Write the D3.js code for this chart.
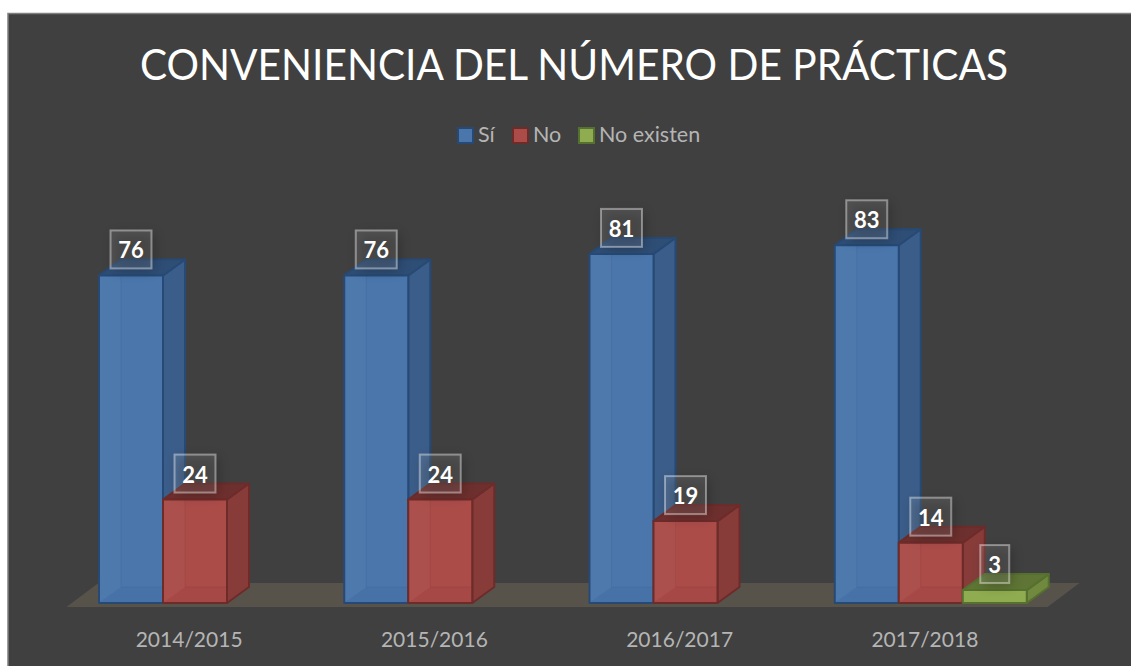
<!DOCTYPE html>
<html>
<head>
<meta charset="utf-8">
<script src="https://cdn.jsdelivr.net/npm/d3@7"></script>
<style>
html, body { margin: 0; padding: 0; background: #fff; overflow: hidden; }
svg { display: block; }
</style>
</head>
<body>
<div id="chart"></div>
<script>
var years = ['2014/2015', '2015/2016', '2016/2017', '2017/2018'];
var seriesNames = ['Sí', 'No', 'No existen'];
var siValues = [76, 76, 81, 83];
var noValues = [24, 24, 19, 14];
var noExistenValues = [null, null, null, 3];
var seriesValues = [siValues, noValues, noExistenValues];

var fronts = ['#4a76ac', '#ab4c49', '#8fac50'];
var sides = ['#3b5d89', '#873c3a', '#71883f'];
var tops = ['#2f4e76', '#6e302e', '#5f7535'];
var edges = ['#264a75', '#6d2b29', '#56702f'];

var width = 1131, height = 666;
var depthX = 22, depthY = 16;

var svg = d3.select('#chart').append('svg').attr('width', width).attr('height', height);

var defs = svg.append('defs');
var blur = defs.append('filter').attr('id', 'labelShadow').attr('x', '-50%').attr('y', '-50%').attr('width', '200%').attr('height', '200%');
blur.append('feGaussianBlur').attr('stdDeviation', 6);

// chart background, runs off the right and bottom of the picture
svg.append('rect').attr('x', 8).attr('y', 13.5).attr('width', 1140).attr('height', 670)
	.attr('fill', '#404040').attr('stroke', '#7f7f7f').attr('stroke-width', 1.5);

var x = d3.scaleBand().domain(years).range([58.5, 1039.5]).paddingInner(0).paddingOuter(0);
var xInner = d3.scaleBand().domain(seriesNames).range([40.5, 232.5]);
var y = d3.scaleLinear().domain([0, 100]).range([603, 172]);

// floor of the 3D chart
var floorPath = d3.path();
floorPath.moveTo(x.range()[0] + 8, 607);
floorPath.lineTo(x.range()[1] + 8, 607);
floorPath.lineTo(x.range()[1] + 8 + 32, 583);
floorPath.lineTo(x.range()[0] + 8 + 32, 583);
floorPath.closePath();
svg.append('path').attr('d', floorPath.toString()).attr('fill', '#57534a');

function polygon(pts){
	return 'M' + pts.map(function(p){ return p[0] + ',' + p[1]; }).join('L') + 'Z';
}

// draws one bar as its faces, the back of the box shows a little through the front
function drawBar(year, s, value){
	var x0 = x(year) + xInner(seriesNames[s]);
	var x1 = x0 + xInner.bandwidth();
	var y0 = y(0);
	var y1 = y(value);
	var g = svg.append('g').attr('stroke', edges[s]).attr('stroke-width', 2).attr('stroke-linejoin', 'round');
	g.append('path').attr('d', polygon([[x1, y1], [x1 + depthX, y1 - depthY], [x1 + depthX, y0 - depthY], [x1, y0]])).attr('fill', sides[s]);
	g.append('path').attr('d', polygon([[x0, y1], [x1, y1], [x1 + depthX, y1 - depthY], [x0 + depthX, y1 - depthY]])).attr('fill', tops[s]);
	g.append('path').attr('d', polygon([[x0, y1], [x1, y1], [x1, y0], [x0, y0]])).attr('fill', fronts[s]);
	if(value > 5){
		svg.append('path').attr('d', polygon([[x0 + 1, y1 + 1], [x0 + depthX, y1 + 1], [x0 + depthX, y0 - depthY], [x0 + 1, y0 - 1]]))
			.attr('fill', '#fff').attr('fill-opacity', 0.025);
		svg.append('path').attr('d', polygon([[x0 + depthX, y0 - depthY], [x1 - 1, y0 - depthY], [x1 - 1, y0 - 1], [x0 + 1, y0 - 1]]))
			.attr('fill', edges[s]).attr('fill-opacity', 0.07);
		svg.append('path')
			.attr('d', 'M' + (x0 + depthX) + ',' + y1 + 'L' + (x0 + depthX) + ',' + (y0 - depthY) + 'L' + x1 + ',' + (y0 - depthY))
			.attr('fill', 'none').attr('stroke', edges[s]).attr('stroke-width', 1).attr('stroke-opacity', 0.12);
	}
}

years.forEach(function(year, i){
	seriesValues.forEach(function(values, s){
		if(values[i] != null) drawBar(year, s, values[i]);
	});
});

// data labels go on top of all the bars
function drawLabel(year, s, value){
	var cx = x(year) + xInner(seriesNames[s]) + xInner.bandwidth() / 2;
	var w = value < 10 ? 29 : 41;
	var h = 38;
	var bottom = y(value) - 7;
	svg.append('rect').attr('x', cx - w / 2 + 3).attr('y', bottom - h + 3).attr('width', w).attr('height', h)
		.attr('fill', '#000').attr('opacity', 0.22).attr('filter', 'url(#labelShadow)');
	svg.append('rect').attr('x', cx - w / 2).attr('y', bottom - h).attr('width', w).attr('height', h)
		.attr('fill', '#fff').attr('fill-opacity', 0.1).attr('stroke', '#fff').attr('stroke-opacity', 0.4).attr('stroke-width', 2);
	svg.append('text').attr('x', cx).attr('y', bottom - 10).attr('text-anchor', 'middle')
		.attr('font-family', 'Lato, sans-serif').attr('font-weight', 700).attr('font-size', 22).attr('fill', '#fff').text(value);
}

years.forEach(function(year, i){
	seriesValues.forEach(function(values, s){
		if(values[i] != null) drawLabel(year, s, values[i]);
	});
});

// category labels
years.forEach(function(year){
	svg.append('text').attr('x', x(year) + x.bandwidth() / 2 + 8).attr('y', 647).attr('text-anchor', 'middle')
		.attr('font-family', 'Lato, sans-serif').attr('font-size', 21).attr('fill', '#b5b5b5').text(year);
});

// title
svg.append('text').attr('x', 140).attr('y', 80)
	.attr('textLength', 868).attr('lengthAdjust', 'spacingAndGlyphs')
	.attr('font-family', 'Lato, sans-serif').attr('font-size', 42).attr('fill', '#fff').text('CONVENIENCIA DEL NÚMERO DE PRÁCTICAS');

// legend
var legendSwatchX = [458, 513, 579];
var legendTextX = [478, 533, 599];
seriesNames.forEach(function(name, s){
	svg.append('rect').attr('x', legendSwatchX[s]).attr('y', 128).attr('width', 15).attr('height', 15)
		.attr('fill', fronts[s]).attr('stroke', edges[s]).attr('stroke-width', 2);
	svg.append('text').attr('x', legendTextX[s]).attr('y', 142).attr('font-family', 'Lato, sans-serif')
		.attr('font-size', 21.5).attr('fill', '#b5b5b5').text(name);
});
</script>
</body>
</html>
